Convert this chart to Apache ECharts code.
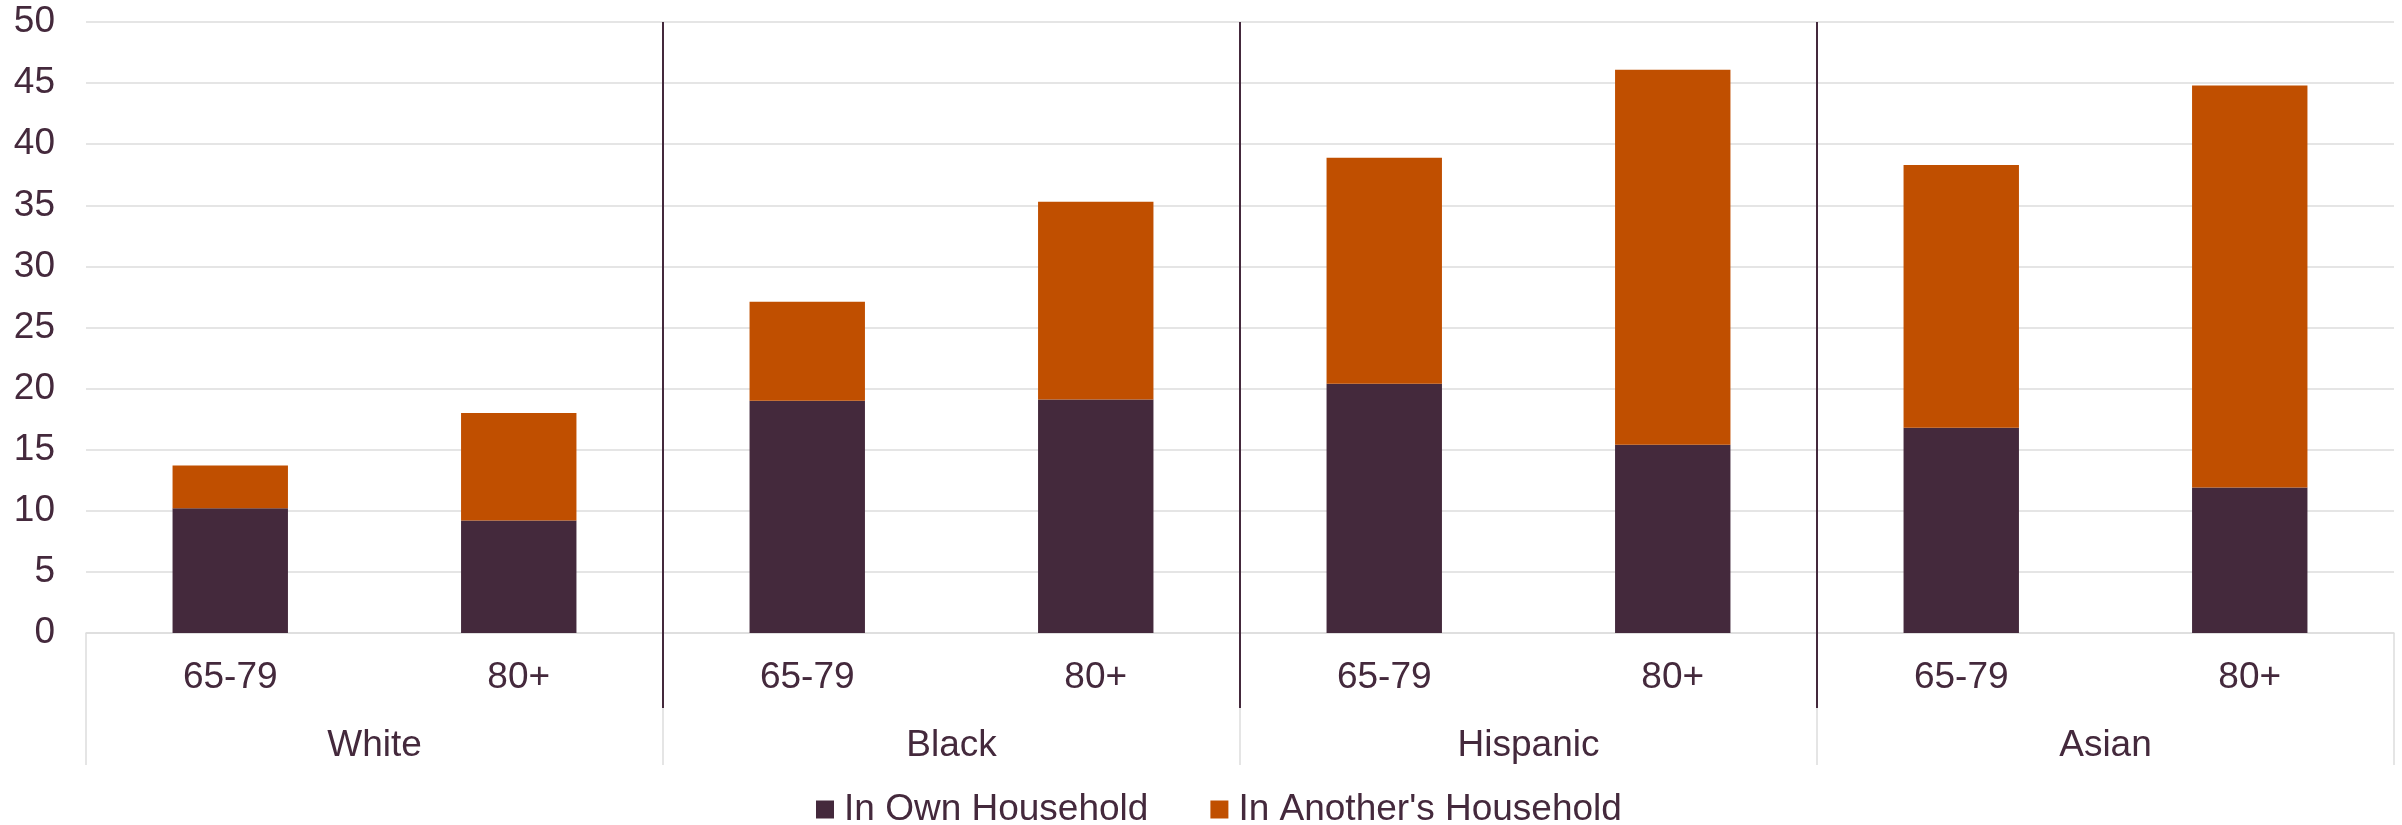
<!DOCTYPE html>
<html>
<head>
<meta charset="utf-8">
<style>
  html, body { margin: 0; padding: 0; background: #ffffff; }
  #chart { width: 2402px; height: 825px; }
</style>
<script src="https://cdn.jsdelivr.net/npm/echarts@6/dist/echarts.min.js"></script>
</head>
<body>
<div id="chart"></div>
<script>
// Age bands under each race/ethnicity group
const ageBands = ['65-79', '80+', '65-79', '80+', '65-79', '80+', '65-79', '80+'];
const groups = ['White', 'Black', 'Hispanic', 'Asian'];
const yTicks = [0, 5, 10, 15, 20, 25, 30, 35, 40, 45, 50];
// Positions (in group units) of the dark dividers between groups
const groupDividers = [1, 2, 3];

// Share living in multigenerational households (%)
const inOwnHousehold = [10.2, 9.2, 19.0, 19.1, 20.4, 15.4, 16.8, 11.9];
const inAnothersHousehold = [3.5, 8.8, 8.1, 16.2, 18.5, 30.7, 21.5, 32.9];

const seriesNames = ['In Own Household', "In Another's Household"];
const colors = ['#44293C', '#C04F00'];

const TEXT = '#44293C';
const GRID_GRAY = '#DDDDDD';
const FONT = '"Liberation Sans", Arial, sans-serif';
const FONT_SIZE = 37;

const GRID = { left: 86, right: 8, top: 22, bottom: 192 };
const plotHeight = 825 - GRID.top - GRID.bottom;

const chart = echarts.init(document.getElementById('chart'), null, { renderer: 'canvas' });

// hidden value axis spanning the groups, used only to draw divider ticks
function dividerAxis(inside, length) {
  return {
    type: 'value',
    position: 'bottom',
    min: 0,
    max: groups.length,
    axisLine: { show: false },
    axisLabel: { show: false },
    splitLine: { show: false },
    axisTick: {
      show: true,
      inside: inside,
      customValues: groupDividers,
      length: length,
      lineStyle: { color: TEXT, width: 2 }
    }
  };
}

chart.setOption({
  animation: false,
  backgroundColor: '#ffffff',
  textStyle: { fontFamily: FONT, color: TEXT },
  grid: Object.assign({ containLabel: false, outerBoundsMode: 'none' }, GRID),
  legend: {
    data: seriesNames,
    left: 811,
    top: 786,
    itemWidth: 18,
    itemHeight: 18,
    itemGap: 62,
    icon: 'rect',
    textStyle: { fontFamily: FONT, fontSize: FONT_SIZE, color: TEXT, padding: [0, 0, 0, 5], lineHeight: 37 }
  },
  xAxis: [
    {
      // age band row
      type: 'category',
      position: 'bottom',
      data: ageBands,
      boundaryGap: true,
      axisLine: { show: true, lineStyle: { color: GRID_GRAY, width: 1.5 } },
      axisTick: { show: false },
      axisLabel: { interval: 0, margin: 26, fontSize: FONT_SIZE, color: TEXT, fontFamily: FONT }
    },
    {
      // group row with light boundary ticks
      type: 'category',
      position: 'bottom',
      data: groups,
      boundaryGap: true,
      axisLine: { show: false },
      axisTick: { show: true, interval: 0, length: 132, lineStyle: { color: GRID_GRAY, width: 1.5 } },
      axisLabel: { interval: 0, margin: 94, fontSize: FONT_SIZE, color: TEXT, fontFamily: FONT }
    },
    // dark dividers: up through the plot, and down through the age band row
    dividerAxis(true, plotHeight),
    dividerAxis(false, 75)
  ],
  yAxis: {
    type: 'value',
    min: yTicks[0],
    max: yTicks[yTicks.length - 1],
    interval: yTicks[1] - yTicks[0],
    axisLine: { show: false },
    axisTick: { show: false },
    axisLabel: { margin: 31, fontSize: FONT_SIZE, color: TEXT, fontFamily: FONT },
    splitLine: { show: true, lineStyle: { color: GRID_GRAY, width: 1.5 } }
  },
  series: [
    {
      name: seriesNames[0],
      type: 'bar',
      stack: 'total',
      xAxisIndex: 0,
      barWidth: '40%',
      itemStyle: { color: colors[0] },
      data: inOwnHousehold
    },
    {
      name: seriesNames[1],
      type: 'bar',
      stack: 'total',
      xAxisIndex: 0,
      barWidth: '40%',
      itemStyle: { color: colors[1] },
      data: inAnothersHousehold
    }
  ]
});
</script>
</body>
</html>
